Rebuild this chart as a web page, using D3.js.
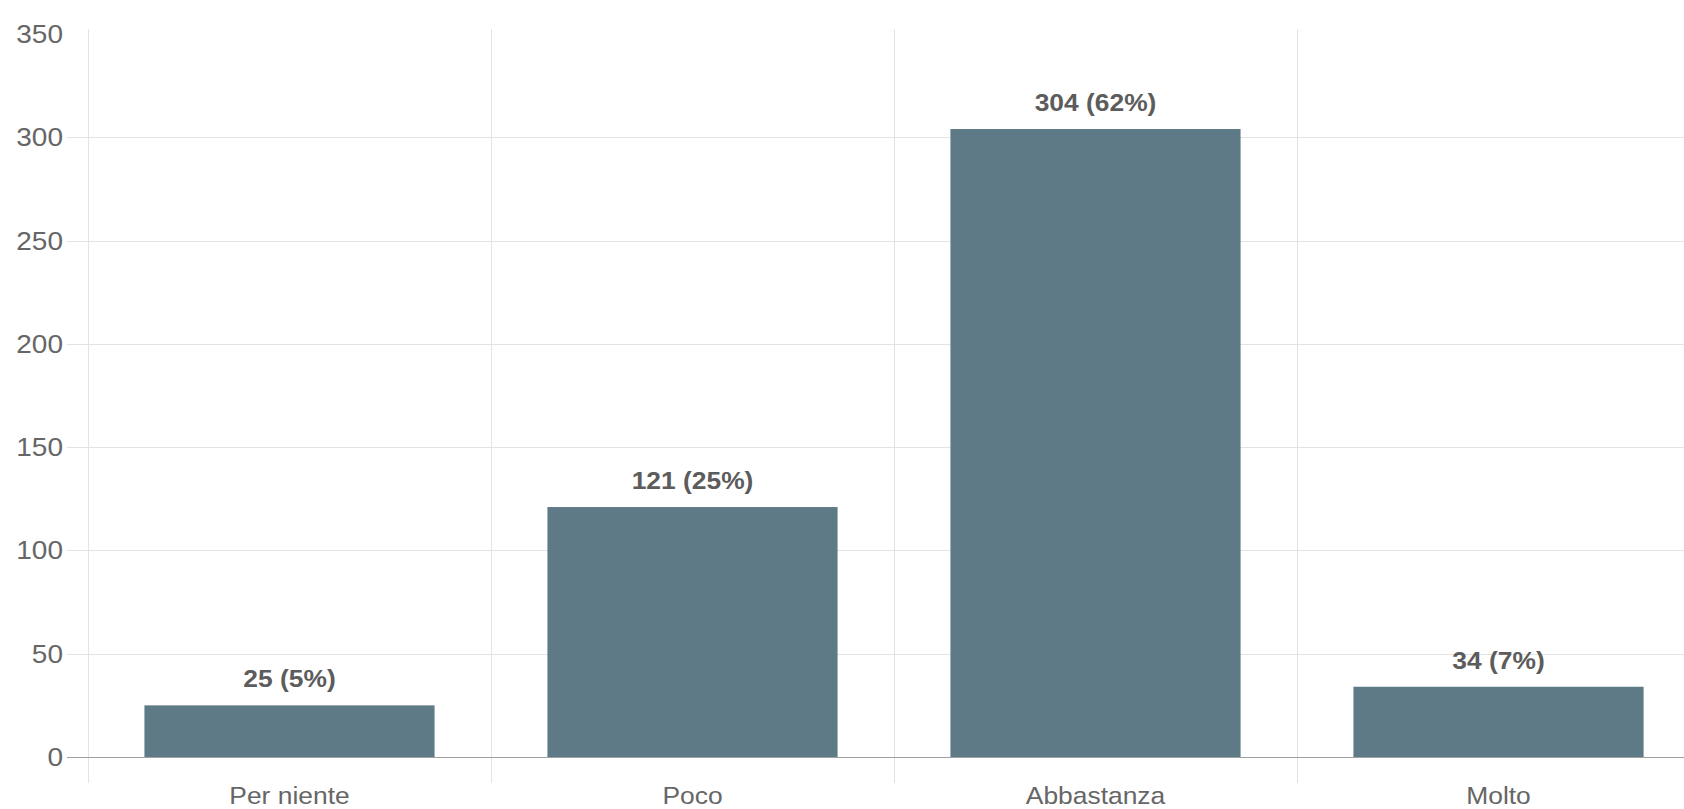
<!DOCTYPE html>
<html><head><meta charset="utf-8">
<script src="https://cdn.jsdelivr.net/npm/d3@7"></script>
<style>html,body{margin:0;padding:0;background:#fff;overflow:hidden}</style>
</head><body>
<svg id="c" width="1684" height="809"></svg>
<script>
const categories = ["Per niente", "Poco", "Abbastanza", "Molto"];
const values = [25, 121, 304, 34];
const percents = [5, 25, 62, 7];
const yTicks = [0, 50, 100, 150, 200, 250, 300, 350];

(function () {
const svg = d3.select("#c");
const plotLeft = 88, bandW = 403, plotTop = 34, plotBottom = 757;
const FONT = "Liberation Sans, Arial, sans-serif";
const SX = 1.1;
const x = d3.scaleBand().domain(categories).range([plotLeft, plotLeft + bandW * categories.length]).paddingInner(0).paddingOuter(0);
const y = d3.scaleLinear().domain([0, 350]).range([plotBottom, plotTop]);
const barW = x.bandwidth() * 0.72;

// horizontal gridlines
svg.append("g").selectAll("line").data(yTicks.filter(d => d > 0 && d < 350)).join("line")
  .attr("x1", 67).attr("x2", 1684).attr("y1", d => Math.round(y(d)) + 0.5).attr("y2", d => Math.round(y(d)) + 0.5)
  .attr("stroke", "#e3e3e3").attr("stroke-width", 1);

// vertical gridlines
const vx = categories.map(c => x(c));
svg.append("g").selectAll("line").data(vx).join("line")
  .attr("x1", d => Math.round(d) + 0.5).attr("x2", d => Math.round(d) + 0.5)
  .attr("y1", 29).attr("y2", 783)
  .attr("stroke", "#e3e3e3").attr("stroke-width", 1);

// bars
svg.append("g").selectAll("rect").data(values).join("rect")
  .attr("x", (d, i) => x(categories[i]) + (x.bandwidth() - barW) / 2)
  .attr("width", barW)
  .attr("y", d => y(d))
  .attr("height", d => y(0) - y(d))
  .attr("fill", "#5f7a87");

// zero baseline
svg.append("line").attr("x1", 67).attr("x2", 1684).attr("y1", y(0) + 0.5).attr("y2", y(0) + 0.5)
  .attr("stroke", "#a0a0a0").attr("stroke-width", 1.2);

// y tick labels
svg.append("g").selectAll("text").data(yTicks).join("text")
  .attr("transform", d => `translate(63,${y(d)}) scale(1.12,1)`)
  .attr("dy", "0.36em")
  .attr("text-anchor", "end")
  .attr("font-family", FONT).attr("font-size", 25)
  .attr("fill", "#666").text(d => d);

// x labels
svg.append("g").selectAll("text").data(categories).join("text")
  .attr("transform", d => `translate(${x(d) + x.bandwidth() / 2},804) scale(${SX},1)`)
  .attr("text-anchor", "middle")
  .attr("font-family", FONT).attr("font-size", 24)
  .attr("fill", "#666").text(d => d);

// value labels
svg.append("g").selectAll("text").data(values).join("text")
  .attr("transform", (d, i) => `translate(${x(categories[i]) + x.bandwidth() / 2},${y(d) - 18}) scale(${SX},1)`)
  .attr("text-anchor", "middle")
  .attr("font-family", FONT).attr("font-size", 24)
  .attr("font-weight", "bold")
  .attr("fill", "#5c5c5c").text((d, i) => `${d} (${percents[i]}%)`);
})();
</script>
</body></html>
